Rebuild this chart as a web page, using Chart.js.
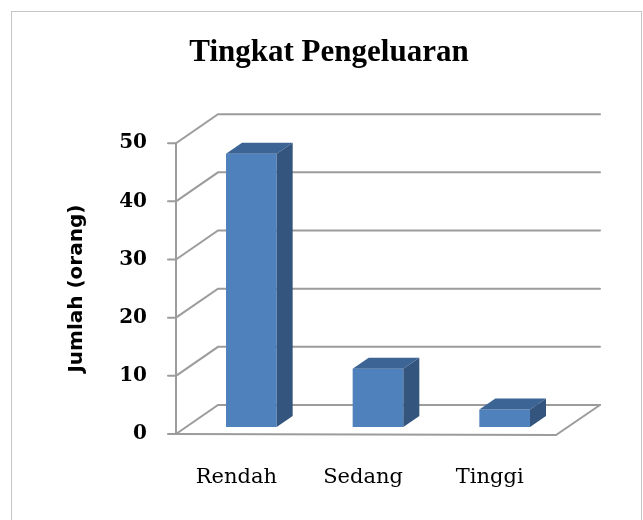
<!DOCTYPE html>
<html lang="id">
<head>
  <meta charset="UTF-8" />
  <title>Tingkat Pengeluaran</title>
  <script src="https://cdn.jsdelivr.net/npm/chart.js"></script>
  <style>
    body {
      margin: 0;
      background: #ffffff;
    }

    .wrap {
      position: relative;
      width: 643px;
      height: 520px;
      overflow: hidden;
    }

    .frame {
      position: absolute;
      left: 11px;
      top: 11px;
      width: 629px;
      height: 520px;
      border: 1px solid #c6c6c6;
    }

    canvas {
      position: absolute;
      left: 0;
      top: 0;
    }
  </style>
</head>
<body>
  <div class="wrap">
    <div class="frame"></div>
    <canvas id="chart" width="643" height="520"></canvas>
  </div>

  <script>
    // data
    const categories = ['Rendah', 'Sedang', 'Tinggi'];
    const jumlah = [47, 10, 3];
    const yTicks = [0, 10, 20, 30, 40, 50];

    // fake 3d look (Excel style)
    const wallBack = { dx: 30, dy: -22 };   // back wall relative to bar plane
    const wallFront = { dx: -12, dy: 7 };   // front edge relative to bar plane
    const barDepth = { dx: 16, dy: -11 };

    const gridColor = '#9c9c9c';

    const threeD = {
      id: 'threeD',
      beforeDatasetsDraw(chart) {
        const { ctx, chartArea } = chart;
        const y = chart.scales.y;
        const fx = chartArea.left + wallFront.dx;
        const bx = chartArea.left + wallBack.dx;
        const rx = chartArea.right + wallBack.dx + 2;
        ctx.save();
        ctx.strokeStyle = gridColor;
        ctx.lineWidth = 2;
        ctx.lineCap = 'round';

        yTicks.forEach(v => {
          const py = y.getPixelForValue(v);
          ctx.beginPath();
          ctx.moveTo(fx, py + wallFront.dy);
          ctx.lineTo(bx, py + wallBack.dy);
          ctx.lineTo(rx, py + wallBack.dy);
          ctx.stroke();
          // small tick on the front axis
          ctx.beginPath();
          ctx.moveTo(fx - 8, py + wallFront.dy);
          ctx.lineTo(fx, py + wallFront.dy);
          ctx.stroke();
        });

        // front vertical axis
        const top = y.getPixelForValue(yTicks[yTicks.length - 1]);
        const base = y.getPixelForValue(0);
        ctx.beginPath();
        ctx.moveTo(fx, top + wallFront.dy);
        ctx.lineTo(fx, base + wallFront.dy);
        ctx.stroke();

        // floor front edge and right side
        ctx.beginPath();
        ctx.moveTo(fx, base + wallFront.dy);
        ctx.lineTo(chartArea.right + wallFront.dx, base + wallFront.dy + 1);
        ctx.lineTo(rx, base + wallBack.dy);
        ctx.stroke();
        ctx.restore();
      },
      afterDatasetsDraw(chart) {
        const { ctx } = chart;
        const meta = chart.getDatasetMeta(0);
        ctx.save();
        meta.data.forEach(bar => {
          const l = bar.x - bar.width / 2;
          const r = bar.x + bar.width / 2;
          const t = bar.y;
          const b = bar.base;
          // top face
          ctx.fillStyle = '#3c6596';
          ctx.beginPath();
          ctx.moveTo(l, t);
          ctx.lineTo(l + barDepth.dx, t + barDepth.dy);
          ctx.lineTo(r + barDepth.dx, t + barDepth.dy);
          ctx.lineTo(r, t);
          ctx.closePath();
          ctx.fill();
          // side face
          ctx.fillStyle = '#33557e';
          ctx.beginPath();
          ctx.moveTo(r, t);
          ctx.lineTo(r + barDepth.dx, t + barDepth.dy);
          ctx.lineTo(r + barDepth.dx, b + barDepth.dy);
          ctx.lineTo(r, b);
          ctx.closePath();
          ctx.fill();
        });
        ctx.restore();
      },
      afterDraw(chart) {
        // axis title, centred on the front plane
        const { ctx } = chart;
        const y = chart.scales.y;
        const mid = (y.getPixelForValue(0) + y.getPixelForValue(50)) / 2 + wallFront.dy;
        ctx.save();
        ctx.translate(77, mid);
        ctx.rotate(-Math.PI / 2);
        ctx.font = 'bold 20px "DejaVu Sans"';
        ctx.fillStyle = '#000000';
        ctx.textAlign = 'center';
        ctx.textBaseline = 'middle';
        ctx.fillText('Jumlah (orang)', 0, 0);
        ctx.restore();
      }
    };

    new Chart(document.getElementById('chart'), {
      type: 'bar',
      data: {
        labels: categories,
        datasets: [{
          label: 'Jumlah',
          data: jumlah,
          backgroundColor: '#4f81bd',
          borderWidth: 0,
          barPercentage: 0.4,
          categoryPercentage: 1
        }]
      },
      options: {
        responsive: false,
        animation: false,
        layout: {
          padding: { left: 90, right: 75, top: 0, bottom: 0 }
        },
        plugins: {
          legend: { display: false },
          tooltip: { enabled: false },
          title: {
            display: true,
            text: 'Tingkat Pengeluaran',
            color: '#000000',
            font: { family: '"Liberation Serif"', size: 31, weight: 'bold' },
            padding: { top: 34, bottom: 65 }
          }
        },
        scales: {
          x: {
            grid: { display: false, drawTicks: false },
            border: { display: false },
            ticks: {
              color: '#000000',
              font: { family: '"DejaVu Serif"', size: 21 },
              padding: 38,
              labelOffset: -15,
              maxRotation: 0,
              autoSkip: false
            },
            afterFit(scale) { scale.height = 93; }
          },
          y: {
            min: 0,
            max: 50,
            grid: { display: false, drawTicks: false },
            border: { display: false },
            ticks: {
              stepSize: 10,
              color: '#000000',
              font: { family: '"DejaVu Serif"', size: 20, weight: 'bold' },
              padding: 41,
              labelOffset: 7
            },
            afterFit(scale) { scale.width = 98; }
          }
        }
      },
      plugins: [threeD]
    });
  </script>
</body>
</html>
